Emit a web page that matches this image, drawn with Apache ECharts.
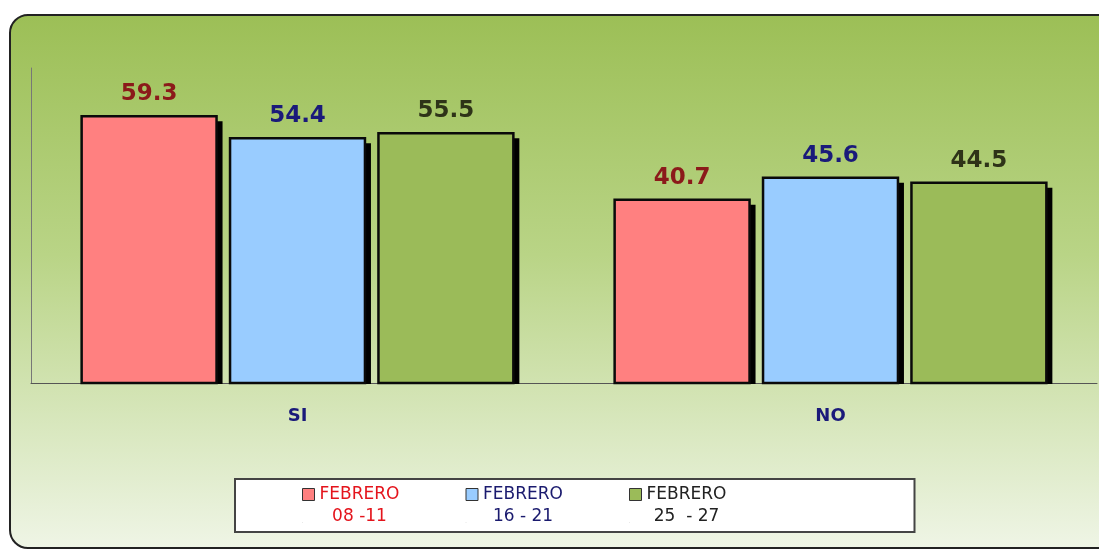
<!DOCTYPE html>
<html>
<head>
<meta charset="utf-8">
<script src="https://cdn.jsdelivr.net/npm/echarts@6/dist/echarts.min.js"></script>
<style>html,body{margin:0;padding:0;background:#fff}#c{width:1099px;height:549px}</style>
</head>
<body>
<div id="c"></div>
<script>
const categories = ['SI', 'NO'];
const seriesNames = ['FEBRERO 08 -11', 'FEBRERO 16 - 21', 'FEBRERO 25 - 27'];
const legendLine1 = ['FEBRERO', 'FEBRERO', 'FEBRERO'];
const legendLine2 = ['08 -11', '16 - 21', '25  - 27'];
const feb0811 = [59.3, 40.7];
const feb1621 = [54.4, 45.6];
const feb2527 = [55.5, 44.5];

const barColors = ['#FF8080', '#99CCFF', '#9BBB59'];
const labelColors = ['#8B1A1A', '#1A1A7A', '#2E3318'];
const legendColors = ['#E4141C', '#1A1A6E', '#222222'];
const values = [feb0811, feb1621, feb2527];
const richKeys = ['r', 'b', 'k'];

const nSeries = values.length;
const catGap = 0.19;   // fraction of category band left empty
const barGap = 0.10;   // gap between bars, as fraction of bar width

const chart = echarts.init(document.getElementById('c'));
const rich = {};
richKeys.forEach((k, i) => {
  rich[k] = { width: 86, align: 'center', fontSize: 17, lineHeight: 22, color: legendColors[i], fontFamily: 'DejaVu Sans' };
});

function makeRender(si) {
  return function (params, api) {
    const cat = api.value(0);
    const val = api.value(1);
    const base = api.coord([cat, 0]);
    const top = api.coord([cat, val]);
    const band = api.size([1, 0])[0];
    const used = band * (1 - catGap);
    const w = used / (nSeries + (nSeries - 1) * barGap);
    const x = base[0] - used / 2 + si * w * (1 + barGap);
    const h = base[1] - top[1];
    return {
      type: 'group',
      children: [
        { type: 'rect', shape: { x: x + 5, y: top[1] + 5, width: w + 1, height: h - 4 }, style: { fill: '#000' }, z2: 0 },
        {
          type: 'rect', shape: { x: x, y: top[1], width: w, height: h },
          style: { fill: barColors[si], stroke: '#0a0a0a', lineWidth: 2.5 }, z2: 1,
          textContent: {
            style: { text: val.toFixed(1), fill: labelColors[si], fontSize: 23, fontWeight: 'bold', fontFamily: 'DejaVu Sans' }
          },
          textConfig: { position: 'top', distance: 9 }
        }
      ]
    };
  };
}

chart.setOption({
  animation: false,
  graphic: [{
    type: 'rect', z: -10, silent: true,
    shape: { x: 10, y: 15, width: 1110, height: 533, r: 18 },
    style: {
      fill: new echarts.graphic.LinearGradient(0, 0, 0, 1, [
        { offset: 0, color: '#9CBF56' },
        { offset: 0.45, color: '#B9D486' },
        { offset: 1, color: '#EFF5E6' }
      ]),
      stroke: '#222', lineWidth: 2
    }
  }],
  grid: { left: 31, right: 2, top: 68, bottom: 166, containLabel: false },
  xAxis: {
    type: 'category', data: categories,
    axisLine: { lineStyle: { color: '#555', width: 1 } },
    axisTick: { show: false },
    axisLabel: { margin: 24, color: '#1A1A7A', fontWeight: 'bold', fontSize: 18, fontFamily: 'DejaVu Sans' }
  },
  yAxis: {
    type: 'value', min: 0, max: 70,
    axisLine: { show: true, lineStyle: { color: '#777', width: 1 } },
    axisTick: { show: false }, axisLabel: { show: false }, splitLine: { show: false }
  },
  legend: {
    left: 235, top: 479,
    padding: [7, 185, 7, 67],
    backgroundColor: '#fff', borderColor: '#444', borderWidth: 2,
    itemGap: 63, itemWidth: 12, itemHeight: 34,
    itemStyle: { borderColor: '#333', borderWidth: 1 },
    icon: 'path://M0,0L12,0L12,12L0,12Z M0,33.9L0,34',
    data: seriesNames,
    textStyle: { padding: [0, 0, 0, -3], rich: rich },
    formatter: function (name) {
      const i = seriesNames.indexOf(name);
      const k = richKeys[i];
      return '{' + k + '|' + legendLine1[i] + '}\n{' + k + '|' + legendLine2[i] + '}';
    }
  },
  series: values.map((v, i) => ({
    name: seriesNames[i], type: 'custom',
    itemStyle: { color: barColors[i] },
    encode: { x: 0, y: 1 },
    data: v.map((val, j) => [j, val]),
    renderItem: makeRender(i)
  }))
});
</script>
</body>
</html>
